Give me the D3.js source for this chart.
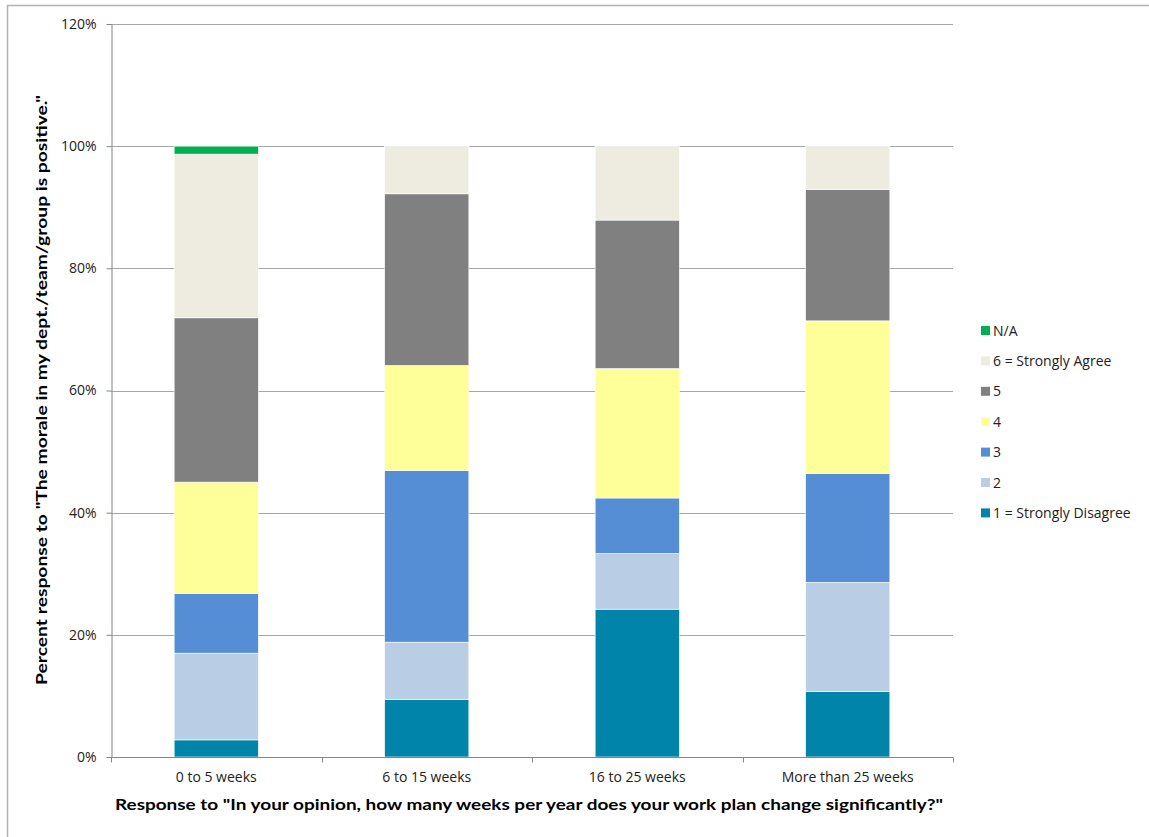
<!DOCTYPE html>
<html>
<head>
<meta charset="utf-8">
<script src="https://cdn.jsdelivr.net/npm/d3@7"></script>
<style>
  html, body { margin: 0; padding: 0; background: #fff; }
  svg { display: block; font-family: "Open Sans", Lato, sans-serif; }
</style>
</head>
<body>
<svg id="chart" width="1149" height="837"></svg>
<script>
// Response groups along the x axis
const categories = ["0 to 5 weeks", "6 to 15 weeks", "16 to 25 weeks", "More than  25 weeks"];

// Percent of responses per rating, one array per rating (order follows categories)
const strongDisagree = [2.8, 9.4, 24.2, 10.7];
const rating2        = [14.2, 9.4, 9.1, 17.9];
const rating3        = [9.8, 28.1, 9.1, 17.8];
const rating4        = [18.2, 17.2, 21.2, 25.0];
const rating5        = [26.9, 28.1, 24.3, 21.5];
const strongAgree    = [26.8, 7.8, 12.1, 7.1];
const notApplicable  = [1.3, 0, 0, 0];

const seriesNames = ["1 = Strongly Disagree", "2", "3", "4", "5", "6 = Strongly Agree", "N/A"];
const seriesValues = [strongDisagree, rating2, rating3, rating4, rating5, strongAgree, notApplicable];
const seriesColors = ["#0084a9", "#b9cde5", "#558ed5", "#ffff99", "#808080", "#eeece1", "#00b050"];

const yTicks = [0, 20, 40, 60, 80, 100, 120];

const svg = d3.select("#chart");

// outer chart frame (top and left edges)
svg.append("path")
  .attr("d", "M7.5,837 V5.5 H1149")
  .attr("fill", "none").attr("stroke", "#b3b3b3").attr("stroke-width", 1.5);

const plot = { left: 111, right: 953, top: 24, bottom: 757 };

const x = d3.scaleBand().domain(categories).range([plot.left, plot.right]).paddingInner(0.6).paddingOuter(0.3);
const xOuter = d3.scaleBand().domain(categories).range([plot.left, plot.right]);
const y = d3.scaleLinear().domain([0, 120]).range([plot.bottom, plot.top]);

// horizontal gridlines
svg.append("g").selectAll("line").data(yTicks.filter(t => t > 0)).join("line")
  .attr("x1", plot.left).attr("x2", plot.right)
  .attr("y1", d => Math.round(y(d)) + 0.5).attr("y2", d => Math.round(y(d)) + 0.5)
  .attr("stroke", "#a6a6a6").attr("stroke-width", 1);

// stacked bars
const table = categories.map((c, i) => {
  const row = { category: c };
  seriesNames.forEach((s, j) => { row[s] = seriesValues[j][i]; });
  return row;
});
const stacked = d3.stack().keys(seriesNames)(table);

svg.append("g").selectAll("g").data(stacked).join("g")
  .attr("fill", (d, i) => seriesColors[i])
  .selectAll("rect").data(d => d.filter(p => p[1] - p[0] > 0)).join("rect")
  .attr("x", d => x(d.data.category))
  .attr("width", x.bandwidth())
  .attr("y", d => y(d[1]))
  .attr("height", d => y(d[0]) - y(d[1]))
  .attr("stroke", "#ffffff").attr("stroke-width", 0.6);

// y axis
const yAxis = svg.append("g").attr("transform", `translate(${plot.left + 0.5},0)`)
  .call(d3.axisLeft(y).tickValues(yTicks).tickFormat(d => d + "%").tickSize(5).tickSizeOuter(0));
yAxis.select(".domain").attr("stroke", "#868686");
yAxis.selectAll(".tick line").attr("stroke", "#868686");
yAxis.selectAll(".tick text").attr("font-size", 14).attr("fill", "#222").attr("x", -15)
  .attr("font-family", "'Open Sans', sans-serif");

// x axis: ticks at category boundaries
const xAxis = svg.append("g").attr("transform", `translate(0,${plot.bottom + 0.5})`);
xAxis.append("line").attr("x1", plot.left).attr("x2", plot.right).attr("stroke", "#868686");
const boundaries = categories.map(c => xOuter(c)).concat([plot.right]);
xAxis.selectAll("line.tick").data(boundaries).join("line").attr("class", "tick")
  .attr("x1", d => Math.round(d) + 0.5).attr("x2", d => Math.round(d) + 0.5)
  .attr("y1", 0).attr("y2", 5).attr("stroke", "#868686");
xAxis.selectAll("text").data(categories).join("text")
  .attr("x", d => xOuter(d) + xOuter.bandwidth() / 2)
  .attr("y", 24)
  .attr("text-anchor", "middle").attr("font-size", 14).attr("fill", "#222")
  .text(d => d);

// axis titles
svg.append("text")
  .attr("x", 529).attr("y", 810)
  .attr("text-anchor", "middle").attr("font-size", 15).attr("font-weight", "bold").attr("fill", "#000")
  .attr("font-family", "Lato, sans-serif")
  .attr("textLength", 828).attr("lengthAdjust", "spacingAndGlyphs")
  .text('Response to "In your opinion, how many weeks per year does your work plan change significantly?"');

svg.append("text")
  .attr("transform", "translate(47,390) rotate(-90)")
  .attr("text-anchor", "middle").attr("font-size", 15).attr("font-weight", "bold").attr("fill", "#000")
  .attr("font-family", "Lato, sans-serif")
  .attr("textLength", 590).attr("lengthAdjust", "spacingAndGlyphs")
  .text('Percent response to "The morale in my dept./team/group is positive."');

// legend (top entry is N/A, bottom is 1)
const legendOrder = seriesNames.map((n, i) => ({ name: n, color: seriesColors[i] })).reverse();
const legend = svg.append("g").attr("transform", "translate(981,326)");
const item = legend.selectAll("g").data(legendOrder).join("g")
  .attr("transform", (d, i) => `translate(0,${i * 30.4})`);
item.append("rect").attr("width", 9).attr("height", 9).attr("fill", d => d.color);
item.append("text").attr("x", 12).attr("y", 9.5).attr("font-size", 14).attr("fill", "#222")
  .text(d => d.name);
</script>
</body>
</html>
